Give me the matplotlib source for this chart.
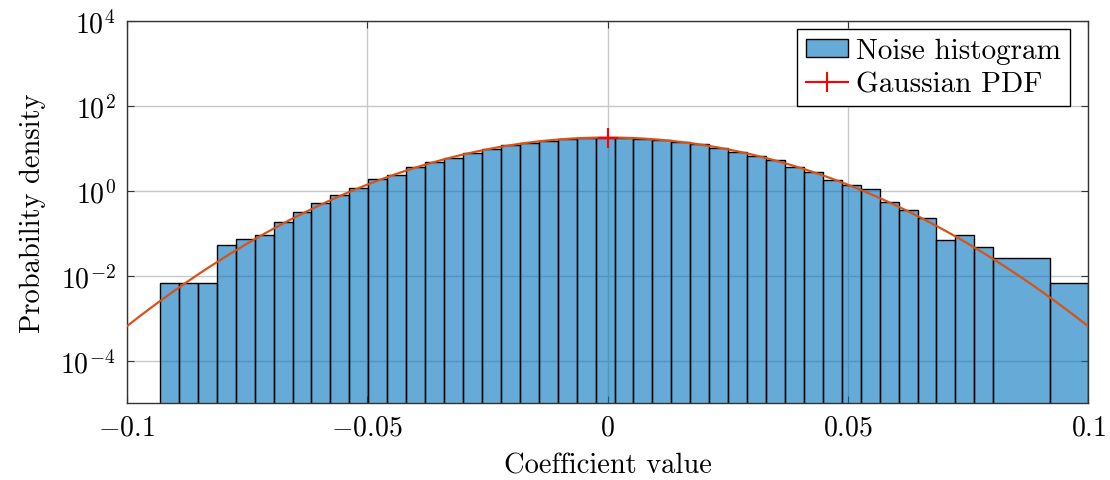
import numpy as np
import matplotlib
matplotlib.use("Agg")
import matplotlib.pyplot as plt
from matplotlib.ticker import FixedLocator, FuncFormatter, NullLocator
from matplotlib.lines import Line2D
from matplotlib.patches import Patch

plt.rcParams['font.family'] = 'cmr10'
plt.rcParams['mathtext.fontset'] = 'cm'
plt.rcParams['axes.formatter.use_mathtext'] = True
plt.rcParams['axes.unicode_minus'] = False

# histogram of the noise coefficients (pdf normalisation)
first_edge = -0.09308
bin_width = 0.003939
# number of unit bins covered by each bar (last ones are merged)
bar_span = [1] * 44 + [3, 2]
density = [0.0067, 0.0067, 0.0067, 0.0536, 0.0757, 0.094, 0.19, 0.31, 0.506, 0.78,
           1.14, 1.86, 2.31, 3.57, 4.69, 5.92, 7.64, 9.48, 11.8, 13.6,
           14.9, 16.9, 17.8, 18.0, 17.2, 16.6, 15.5, 13.9, 12.4, 10.2,
           8.32, 6.70, 5.31, 3.57, 2.77, 1.82, 1.35, 1.08, 0.543, 0.358,
           0.228, 0.0692, 0.094, 0.0473, 0.0270, 0.0067]

# fitted gaussian
mu = 0.0
sigma = 0.0221

edges = first_edge + bin_width * np.concatenate([[0], np.cumsum(bar_span)])

x = np.linspace(-0.1, 0.1, 400)
pdf = np.exp(-(x - mu) ** 2 / (2 * sigma ** 2)) / (sigma * np.sqrt(2 * np.pi))
peak = 1 / (sigma * np.sqrt(2 * np.pi))

fig = plt.figure(figsize=(11.1, 4.81), dpi=100)
ax = fig.add_axes([0.1141, 0.1595, 0.8664, 0.7948])

bar_face = (0.0, 0.447, 0.741, 0.6)
ax.bar(edges[:-1], density, width=np.diff(edges), align='edge',
       color=bar_face, edgecolor='black', linewidth=1.0, zorder=2)
ax.plot(x, pdf, color='#D95319', linewidth=1.6, zorder=3)
ax.plot([mu], [peak], marker='+', color='red', markersize=14, markeredgewidth=1.5,
        linestyle='none', zorder=4)

ax.set_yscale('log')
ax.set_xlim(-0.1, 0.1)
ax.set_ylim(1e-5, 1e4)

ax.xaxis.set_major_locator(FixedLocator([-0.1, -0.05, 0, 0.05, 0.1]))
ax.xaxis.set_major_formatter(FuncFormatter(lambda v, p: '$%g$' % v))
ax.yaxis.set_major_locator(FixedLocator([1e-4, 1e-2, 1e0, 1e2, 1e4]))
ax.yaxis.set_major_formatter(FuncFormatter(lambda v, p: r'$10^{%d}$' % round(np.log10(v))))
ax.yaxis.set_minor_locator(NullLocator())

ax.grid(True, color='#c8c8c8', linewidth=1.0, zorder=0)
ax.set_axisbelow(True)
ax.tick_params(direction='in', length=5, width=0.8, top=True, right=True,
               labelsize=20, colors='#333333', labelcolor='black', pad=8)
for sp in ax.spines.values():
    sp.set_color('#333333')
    sp.set_linewidth(1.0)

ax.set_xlabel('Coefficient value', fontsize=20.5, labelpad=8)
ax.set_ylabel('Probability density', fontsize=20.5, labelpad=10)

handles = [Patch(facecolor=bar_face, edgecolor='black', linewidth=1.0),
           Line2D([], [], color='red', marker='+', markersize=14, markeredgewidth=1.5, linewidth=1.5)]
leg = ax.legend(handles, ['Noise histogram', 'Gaussian PDF'], loc='upper right',
                bbox_to_anchor=(0.981, 0.979), fontsize=21, frameon=True, fancybox=False,
                edgecolor='black', framealpha=1, borderpad=0.3, handlelength=1.45,
                handleheight=0.6, handletextpad=0.28, labelspacing=0.25, borderaxespad=0)
leg.get_frame().set_linewidth(1.0)

fig.savefig('out.png', dpi=100)
